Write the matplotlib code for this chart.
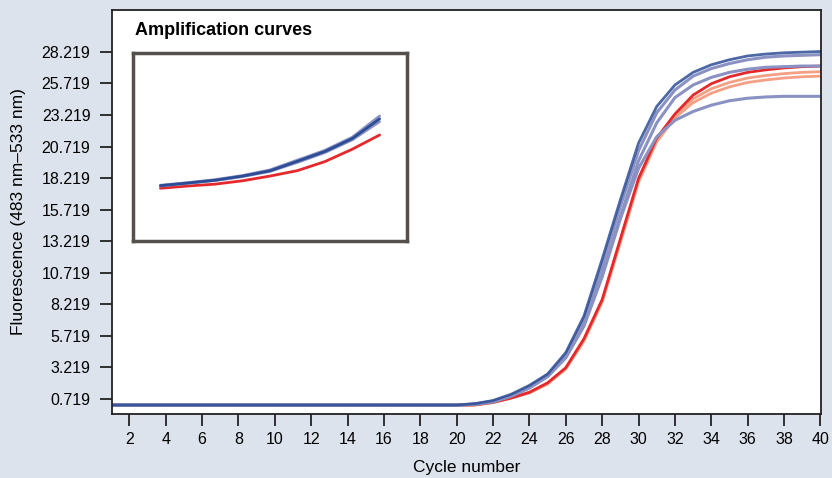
#!/usr/bin/env python3
"""qPCR amplification curves (fluorescence vs cycle number) with inset."""

import matplotlib

matplotlib.use("Agg")
import matplotlib.pyplot as plt

plt.rcParams["font.family"] = ["Liberation Sans", "DejaVu Sans"]

# cycles 1..40, baseline up to cycle 20
cycles = list(range(1, 41))
baseline = [0.24] * 20

# values for cycles 21..40
blue_1 = baseline + [0.35, 0.6, 1.1, 1.8, 2.7, 4.4, 7.3, 11.8, 16.5, 21.0,
                     23.9, 25.6, 26.6, 27.2, 27.6, 27.9, 28.05, 28.15, 28.2, 28.25]
blue_2 = baseline + [0.33, 0.55, 1.0, 1.7, 2.6, 4.2, 7.0, 11.3, 16.0, 20.4,
                     23.4, 25.2, 26.3, 26.9, 27.3, 27.6, 27.8, 27.9, 27.95, 28.0]
blue_3 = baseline + [0.3, 0.5, 0.95, 1.6, 2.5, 4.0, 6.6, 10.6, 15.2, 19.6,
                     22.6, 24.6, 25.6, 26.2, 26.6, 26.85, 27.0, 27.05, 27.1, 27.1]
blue_4 = baseline + [0.3, 0.5, 0.95, 1.6, 2.5, 4.0, 6.5, 10.4, 15.0, 19.0,
                     21.5, 22.8, 23.5, 24.0, 24.35, 24.55, 24.65, 24.7, 24.7, 24.7]
red_1 = baseline + [0.25, 0.45, 0.8, 1.25, 2.0, 3.2, 5.5, 8.6, 13.4, 18.2,
                    21.4, 23.3, 24.8, 25.7, 26.25, 26.6, 26.8, 26.95, 27.05, 27.1]
red_2 = baseline + [0.25, 0.45, 0.8, 1.25, 1.95, 3.15, 5.4, 8.5, 13.3, 18.1,
                    21.3, 23.2, 24.5, 25.3, 25.8, 26.15, 26.35, 26.5, 26.6, 26.65]
red_3 = baseline + [0.25, 0.45, 0.8, 1.2, 1.9, 3.1, 5.3, 8.4, 13.1, 17.9,
                    21.1, 23.0, 24.2, 24.95, 25.45, 25.8, 26.0, 26.15, 26.25, 26.3]

# inset (early exponential phase), arbitrary units
inset_x = [1, 2, 3, 4, 5, 6, 7, 8, 9]
inset_blue_a = [2.96, 3.10, 3.26, 3.48, 3.78, 4.30, 4.82, 5.52, 6.65]
inset_blue_b = [2.94, 3.08, 3.23, 3.45, 3.73, 4.24, 4.76, 5.45, 6.50]
inset_blue_c = [2.92, 3.06, 3.21, 3.42, 3.70, 4.18, 4.70, 5.38, 6.35]
inset_red = [2.80, 2.92, 3.02, 3.20, 3.45, 3.74, 4.22, 4.88, 5.64]

y_ticks = [0.719, 3.219, 5.719, 8.219, 10.719, 13.219, 15.719, 18.219,
           20.719, 23.219, 25.719, 28.219]
x_ticks = list(range(2, 41, 2))

BG = "#dde3ed"
NAVY = "#2c4d95"
LAVENDER = "#8a91c3"
RED = "#e5282c"
SALMON = "#f3a084"


def main() -> None:
    fig = plt.figure(figsize=(8.32, 4.78), dpi=100, facecolor=BG)
    ax = fig.add_axes([112 / 832, 64.5 / 478, 709 / 832, 403.5 / 478])

    kw = dict(solid_joinstyle="round", solid_capstyle="round")
    ax.plot(cycles, red_3, color=SALMON, lw=2.0, **kw)
    ax.plot(cycles, red_2, color=SALMON, lw=2.0, **kw)
    ax.plot(cycles, red_1, color=RED, lw=2.0, **kw)
    ax.plot(cycles, blue_4, color=LAVENDER, lw=2.2, **kw)
    ax.plot(cycles, blue_3, color=LAVENDER, lw=2.2, **kw)
    ax.plot(cycles, blue_2, color=LAVENDER, lw=2.2, **kw)
    ax.plot(cycles, blue_1, color=NAVY, lw=2.0, alpha=0.85, **kw)

    ax.set_xlim(1.05, 40.03)
    ax.set_ylim(-0.43, 31.54)
    ax.set_xticks(x_ticks)
    ax.set_yticks(y_ticks)
    ax.set_yticklabels([f"{v:.3f}" for v in y_ticks])
    ax.tick_params(axis="both", labelsize=11.5, length=8.5, width=1.3, color="#222222")
    ax.tick_params(axis="y", pad=7)
    ax.tick_params(axis="x", pad=4.5)
    for sp in ax.spines.values():
        sp.set_linewidth(1.3)
        sp.set_color("#222222")

    ax.set_xlabel("Cycle number", fontsize=12.5, labelpad=10)
    ax.set_ylabel("Fluorescence (483 nm\u2013533 nm)", fontsize=12.5)
    ax.yaxis.set_label_coords(-0.121, 0.5)

    ax.text(0.032, 0.948, "Amplification curves", transform=ax.transAxes,
            fontsize=13, fontweight="bold", va="center", ha="left")

    # inset
    ins = ax.inset_axes([21 / 709, 0.428, 274 / 709, 0.465])
    ins.plot(inset_x, inset_red, color=RED, lw=2.0, **kw)
    ins.plot(inset_x, inset_blue_c, color=LAVENDER, lw=2.0, **kw)
    ins.plot(inset_x, inset_blue_a, color=LAVENDER, lw=2.0, **kw)
    ins.plot(inset_x, inset_blue_b, color=NAVY, lw=2.0, **kw)
    ins.set_xlim(0, 10)
    ins.set_ylim(0, 10)
    ins.set_xticks([])
    ins.set_yticks([])
    for sp in ins.spines.values():
        sp.set_linewidth(2.5)
        sp.set_color("#55504b")

    fig.savefig("out.png", dpi=100, facecolor=BG)
    plt.close(fig)


if __name__ == "__main__":
    main()
